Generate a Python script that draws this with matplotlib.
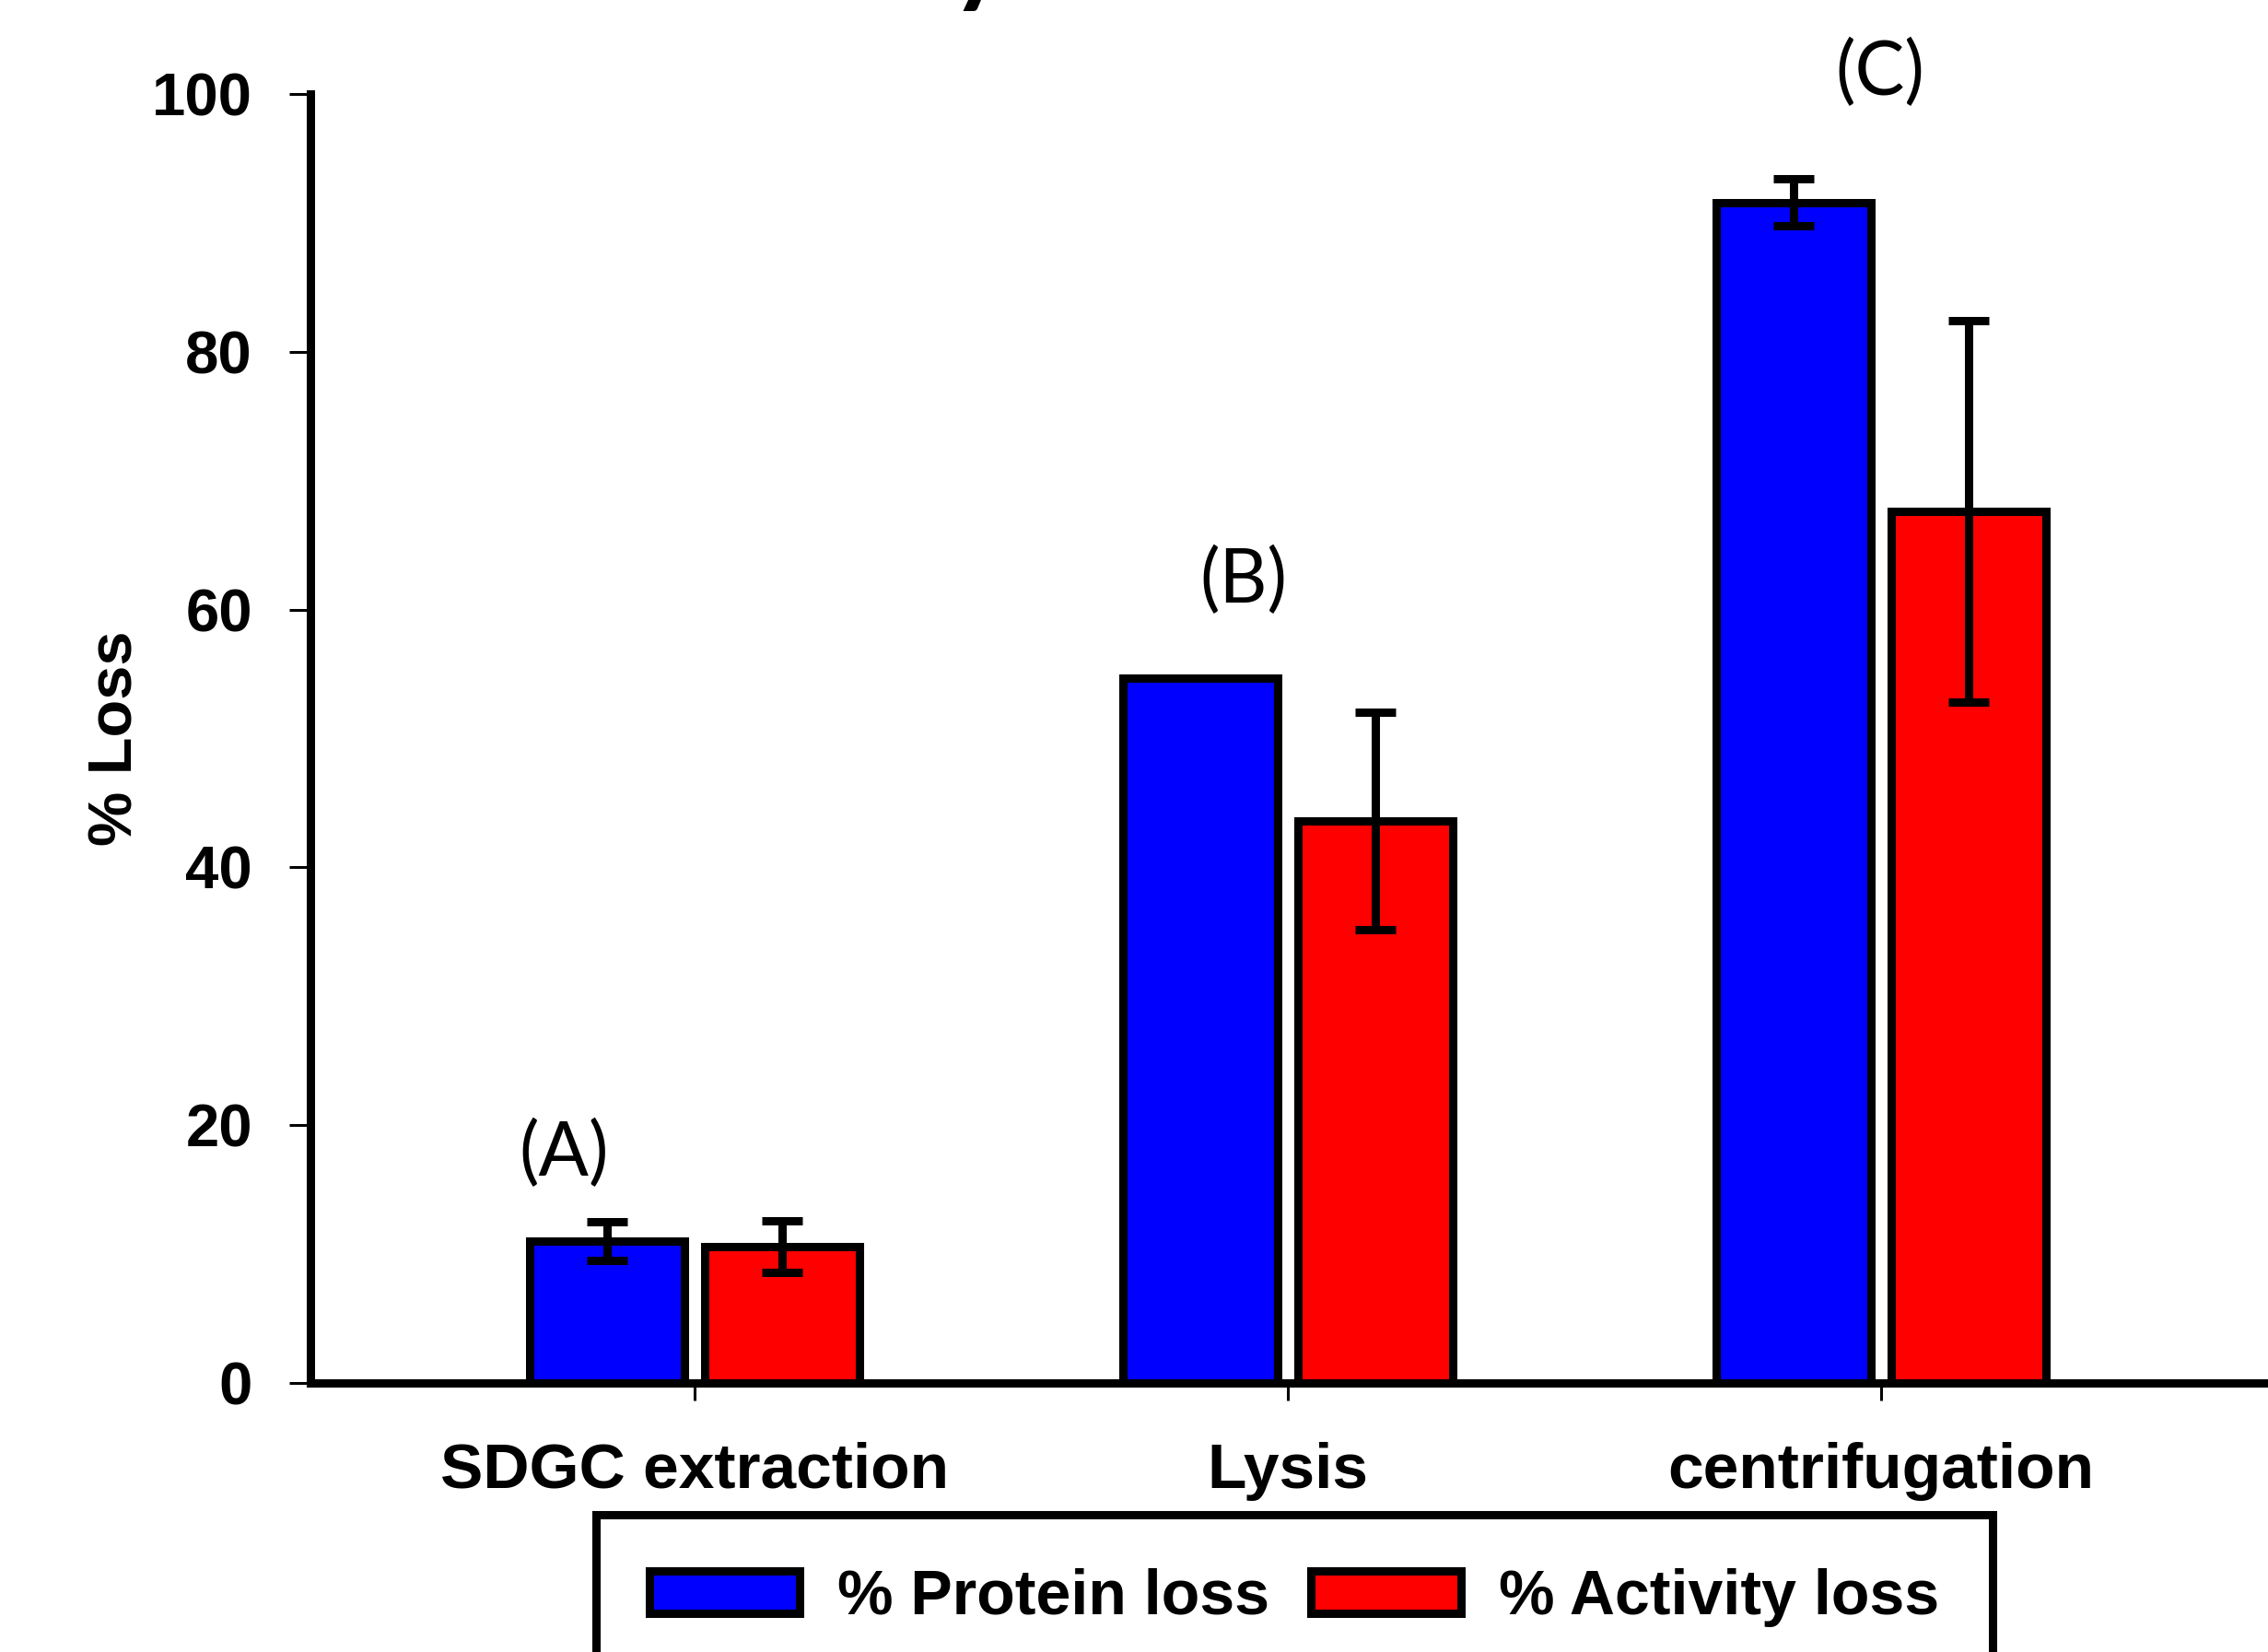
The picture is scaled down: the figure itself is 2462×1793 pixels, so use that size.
import numpy as np
import matplotlib
matplotlib.use("Agg")
import matplotlib.pyplot as plt

# ---- data ----
categories = ["SDGC extraction", "Lysis", "centrifugation"]
protein_loss = [11.0, 54.7, 91.6]
protein_err = [1.5, np.nan, 1.8]
activity_loss = [10.6, 43.6, 67.6]
activity_err = [2.0, 8.45, 14.8]
series_labels = ["% Protein loss", "% Activity loss"]
group_labels = ["(A)", "(B)", "(C)"]
yticks = [0, 20, 40, 60, 80, 100]

W, H, DPI = 2462, 1793, 100
fig = plt.figure(figsize=(W / DPI, H / DPI), dpi=DPI)
ax = fig.add_axes([337 / W, 1 - 1501 / H, 1 - 337 / W, (1501 - 102) / H])

bold = dict(family="Liberation Sans", weight="bold")
x = np.arange(1, len(categories) + 1)
off = 0.1475
bw = 0.26

b1 = ax.bar(x - off, protein_loss, bw, color="#0000FF", edgecolor="black",
            linewidth=6.5, label=series_labels[0], zorder=2)
b2 = ax.bar(x + off, activity_loss, bw, color="#FF0000", edgecolor="black",
            linewidth=6.5, label=series_labels[1], zorder=2)
ax.errorbar(x - off, protein_loss, yerr=protein_err, fmt="none", ecolor="black",
            elinewidth=6.5, capsize=16, capthick=6.5, zorder=3)
ax.errorbar(x + off, activity_loss, yerr=activity_err, fmt="none", ecolor="black",
            elinewidth=6.5, capsize=16, capthick=6.5, zorder=3)

ax.set_xlim(1 - 417 / 644, 1 + (W - 754) / 644)
ax.set_ylim(0, 100)
ax.set_yticks(yticks)
ax.set_xticks(x)
ax.set_xticklabels(categories, fontsize=50, **bold)
ax.set_yticklabels([str(v) for v in yticks], fontsize=47, **bold)
ax.tick_params(axis="y", direction="out", length=16.5, width=2.2, pad=29)
ax.tick_params(axis="x", direction="out", length=14, width=2.2, pad=32)
for s in ["top", "right"]:
    ax.spines[s].set_visible(False)
for s in ["left", "bottom"]:
    ax.spines[s].set_linewidth(6.5)
ax.set_ylabel("% Loss", fontsize=48, labelpad=5, **bold)

# group annotations
ann_pos = [(0.78, 17.8), (1.925, 62.2), (2.998, 101.6)]
for lab, (xx, yy) in zip(group_labels, ann_pos):
    ax.text(xx, yy, lab, ha="center", va="center", fontsize=58,
            family="Lato", clip_on=False)

# cut-off title glyph at top (as in the reference)
fig.text(1032 / W, 1.0045, "y", fontsize=85, family="Lato", weight="bold",
         ha="left", va="baseline")

leg = fig.legend(handles=[b1, b2], labels=series_labels, loc="upper center",
                 bbox_to_anchor=(1405 / W, 1 - 1644 / H), ncol=2,
                 prop=dict(family="Liberation Sans", weight="bold", size=49),
                 frameon=True, fancybox=False, edgecolor="black", framealpha=1,
                 handlelength=2.4, handleheight=0.67, handletextpad=0.6,
                 columnspacing=0.65, borderpad=0.85, borderaxespad=0)
leg.get_frame().set_linewidth(6.5)

fig.savefig("out.png", dpi=DPI)
